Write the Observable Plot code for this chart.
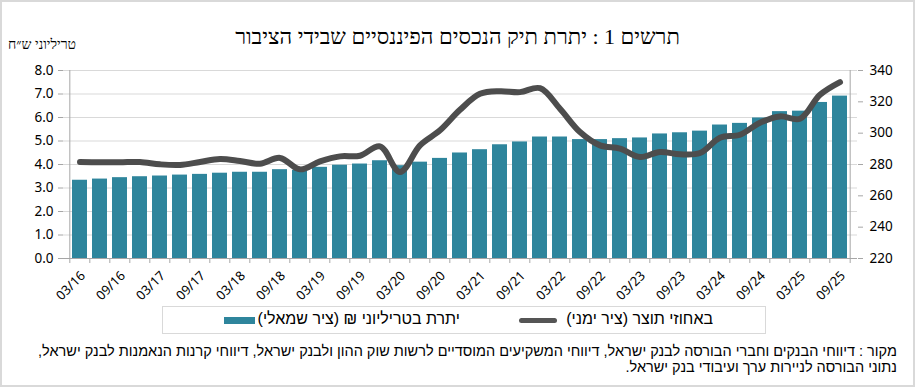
<!DOCTYPE html>
<html><head><meta charset="utf-8">
<script src="https://cdn.jsdelivr.net/npm/d3@7"></script>
<script src="https://cdn.jsdelivr.net/npm/@observablehq/plot@0.6"></script>
<style>
body{margin:0;background:#fff;}
#wrap{position:relative;width:915px;height:387px;overflow:hidden;font-family:"Liberation Sans",Arial,sans-serif;color:#000;background:#fff;}
#frame{position:absolute;left:0;top:0;width:915px;height:387px;box-sizing:border-box;border:2px solid #d9d9d9;pointer-events:none;}
#chart{position:absolute;left:0;top:0;}
.t{position:absolute;white-space:nowrap;direction:rtl;}
</style></head>
<body><div id="wrap">
<div id="chart"></div>
<div class="t" id="title" style="left:0;width:915px;top:24px;text-align:center;font-family:'Liberation Serif','DejaVu Serif',serif;font-size:22px;">תרשים 1 : יתרת תיק הנכסים הפיננסיים שבידי הציבור</div>
<div class="t" id="unit" style="left:8px;top:37px;font-family:'Liberation Serif','DejaVu Serif',serif;font-size:14px;">טריליוני ש״ח</div>
<div id="legend" style="position:absolute;left:162px;top:306px;width:604px;height:28px;box-sizing:border-box;border:1px solid #d9d9d9;background:#fff;"></div>
<div id="sw1" style="position:absolute;left:224px;top:317px;width:31px;height:7px;background:#2E859C;"></div>
<div class="t" style="right:455px;top:310px;font-size:16px;">יתרת בטריליוני ₪ (ציר שמאלי)</div>
<div id="sw2" style="position:absolute;left:519px;top:318px;width:38px;height:5px;border-radius:3px;background:#555;"></div>
<div class="t" style="right:202px;top:310px;font-size:16px;">באחוזי תוצר (ציר ימני)</div>
<div class="t" style="right:18px;top:343px;font-size:14.5px;">מקור : דיווחי הבנקים וחברי הבורסה לבנק ישראל, דיווחי המשקיעים המוסדיים לרשות שוק ההון ולבנק ישראל, דיווחי קרנות הנאמנות לבנק ישראל,</div>
<div class="t" style="right:18px;top:359px;font-size:14.5px;">נתוני הבורסה לניירות ערך ועיבודי בנק ישראל.</div>
<div id="frame"></div>
</div>
<script>
const quarters = ["03/16","06/16","09/16","12/16","03/17","06/17","09/17","12/17","03/18","06/18","09/18","12/18","03/19","06/19","09/19","12/19","03/20","06/20","09/20","12/20","03/21","06/21","09/21","12/21","03/22","06/22","09/22","12/22","03/23","06/23","09/23","12/23","03/24","06/24","09/24","12/24","03/25","06/25","09/25"];
const trillions = [3.33,3.38,3.44,3.48,3.51,3.55,3.58,3.63,3.67,3.67,3.78,3.75,3.88,3.97,4.02,4.16,3.95,4.10,4.26,4.49,4.63,4.84,4.96,5.17,5.17,5.06,5.06,5.10,5.13,5.30,5.35,5.42,5.68,5.75,5.98,6.25,6.27,6.64,6.91];
const gdpPct = [281.6,281.4,281.4,281.6,280.1,279.7,281.6,283.5,282.2,280.5,284.2,276.9,282.0,285.2,285.6,291.6,275.2,292.2,301.8,314.9,325.1,326.8,326.2,328.7,315.6,300.7,292.2,290.1,284.8,288.0,286.5,287.3,297.1,299.0,306.7,310.7,309.2,324.5,332.6];
const leftTicks = [0,1,2,3,4,5,6,7,8];
const rightTicks = [220,240,260,280,300,320,340];

const R0 = 220, R1 = 340, L1 = 8;
const toLeft = v => (v - R0) / (R1 - R0) * L1;
const fromLeft = v => R0 + v / L1 * (R1 - R0);

const data = quarters.map((q, i) => ({q, v: trillions[i], g: gdpPct[i]}));
const W = 915, mL = 63, mR = 58;
const step = (W - mL - mR) / quarters.length;
const axisColor = "#a6a6a6";

const chart = Plot.plot({
  width: W, height: 304,
  marginTop: 70, marginBottom: 46, marginLeft: mL, marginRight: mR,
  style: {fontFamily: "'Noto Sans', sans-serif", fontSize: "13.5px", color: "#000", background: "transparent"},
  x: {domain: quarters, paddingInner: 0.24, paddingOuter: 0.12, label: null},
  y: {domain: [0, 8], label: null},
  marks: [
    Plot.gridY({ticks: leftTicks, stroke: "#d9d9d9", strokeOpacity: 1}),
    Plot.barY(data, {x: "q", y: "v", fill: "#2E859C"}),
    Plot.line(data, {x: "q", y: d => toLeft(d.g), stroke: "#4D4D4D", strokeWidth: 6, curve: "catmull-rom", strokeLinecap: "round"}),
    Plot.ruleY([0], {stroke: axisColor}),
    Plot.ruleX([quarters[0]], {y1: 0, y2: 8, dx: -step / 2, stroke: axisColor}),
    Plot.ruleX([quarters[quarters.length - 1]], {y1: 0, y2: 8, dx: step / 2, stroke: axisColor}),
    Plot.axisX({ticks: quarters, tickSize: 5, tickFormat: () => "", dx: -step / 2, stroke: axisColor, label: null}),
    Plot.axisX({ticks: [quarters[quarters.length - 1]], tickSize: 5, tickFormat: () => "", dx: step / 2, stroke: axisColor, label: null}),
    Plot.axisX({ticks: quarters.filter((d, i) => i % 2 === 0), tickSize: 0, tickRotate: -45, tickPadding: 6, fontSize: 13, dx: 3, dy: 9, label: null}),
    Plot.axisY({anchor: "left", ticks: leftTicks, tickFormat: d => d.toFixed(1), tickSize: 5, tickPadding: 5, stroke: axisColor, label: null}),
    Plot.axisY({anchor: "right", ticks: rightTicks.map(toLeft), tickFormat: d => String(Math.round(fromLeft(d))), tickSize: 5, tickPadding: 7, stroke: axisColor, label: null})
  ]
});
document.getElementById("chart").appendChild(chart);
</script>
</body></html>
